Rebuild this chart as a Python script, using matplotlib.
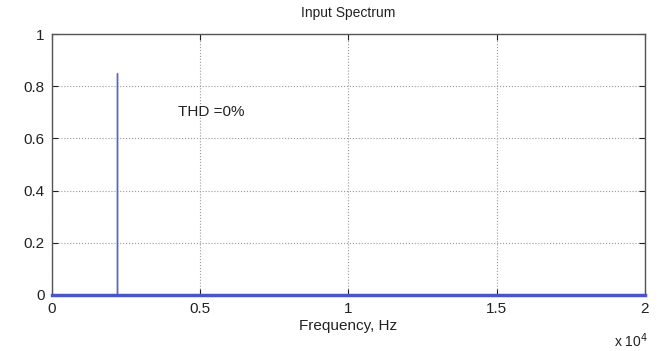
import matplotlib
matplotlib.use("Agg")
import matplotlib.pyplot as plt
import numpy as np

plt.rcParams['font.family'] = ['Liberation Sans', 'DejaVu Sans']

# spectrum data
freq_hz = [0, 2200, 2200, 2200, 20000]
magnitude = [0, 0, 0.85, 0, 0]
thd_label = "THD =0%"
x_ticks = [0, 5000, 10000, 15000, 20000]
x_tick_labels = ["0", "0.5", "1", "1.5", "2"]
y_ticks = [0, 0.2, 0.4, 0.6, 0.8, 1]
y_tick_labels = ["0", "0.2", "0.4", "0.6", "0.8", "1"]

fig = plt.figure(figsize=(6.64, 3.51), dpi=100)
ax = fig.add_axes([0.078, 0.16, 0.893, 0.743])

ax.plot(freq_hz, magnitude, color='#5a64cc', lw=1.0, solid_joinstyle='miter')
ax.axhline(0, color='#4b55c8', lw=2.5, zorder=3, clip_on=False)

ax.set_xlim(0, 20000)
ax.set_ylim(0, 1)
ax.set_xticks(x_ticks)
ax.set_xticklabels(x_tick_labels)
ax.set_yticks(y_ticks)
ax.set_yticklabels(y_tick_labels)

ax.grid(True, linestyle=':', color='#999999', lw=0.8)
ax.tick_params(direction='in', length=4, labelsize=11, colors='#222222',
               top=True, right=True, pad=5)
for s in ax.spines.values():
    s.set_color('#555555')
    s.set_linewidth(1.0)

ax.text(4250, 0.70, thd_label, fontsize=11, color='#222222', va='center')
ax.set_title("Input Spectrum", fontsize=10, color='#222222', pad=12)
ax.set_xlabel("Frequency, Hz", fontsize=11, color='#222222', labelpad=2)
fig.text(0.925, 0.012, r"x 10$^4$", fontsize=10, color='#222222')

fig.savefig("out.png", dpi=100)
